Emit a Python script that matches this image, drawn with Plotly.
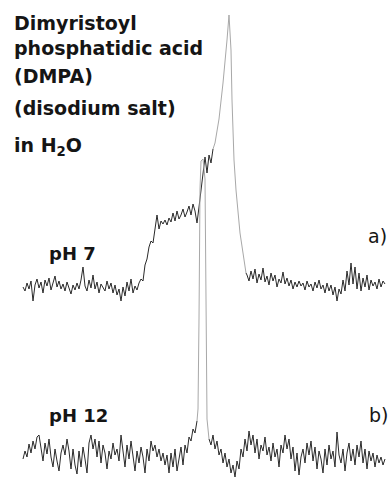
import plotly.graph_objects as go

# ---- data (x: channel, y: signal height) ----
ph7_x = [23,25,27,29,31,33,35,37,39,41,43,45,47,49,51,53,55,57,59,61,63,65,67,69,71,73,75,77,79,81,
         83,85,87,89,91,93,95,97,99,101,103,105,107,109,111,113,115,117,119,121,123,125,127,129,131,133,135,137,139,
         141,143,145,147,149,151,153,155,
         157,159,161,163,165,167,169,171,173,175,177,179,181,183,185,187,189,191,193,195,197,199,201,203,205,207,209,211,213,
         215,219,223,227,229,231,232,234,236,240,243,246,
         247,249,251,253,255,257,259,261,263,265,267,269,271,273,275,277,279,281,283,285,287,289,291,293,295,297,299,
         301,303,305,307,309,311,313,315,317,319,321,323,325,327,329,331,333,335,337,339,341,343,345,347,349,351,353,
         355,357,359,361,363,365,367,369,371,373,375,377,379,381,383,385]
ph7_y = [192,188,196,190,198,178,194,200,191,197,186,199,193,201,189,196,203,192,198,190,195,188,197,191,185,194,189,196,190,199,
         212,193,188,199,191,204,190,197,186,195,192,188,198,190,196,186,194,184,190,178,192,183,197,188,200,186,193,189,196,
         200,198,214,220,232,238,236,250,
         264,250,258,255,259,254,261,257,266,258,268,260,264,270,262,267,273,264,275,268,256,272,290,310,322,306,324,316,330,
         336,360,396,439,464,429,379,319,289,246,224,206,
         204,198,208,200,210,196,205,199,211,197,203,194,206,198,204,192,200,196,207,195,201,193,199,190,197,192,198,
         193,196,189,198,192,195,188,197,191,199,190,194,186,196,188,194,184,192,178,190,185,199,188,208,194,216,195,
         212,190,206,188,201,192,204,189,199,193,197,190,200,192,198,195]

ph12_x = [23,25,27,29,31,33,35,37,39,41,43,45,47,49,51,53,55,57,59,61,63,65,67,69,71,73,75,77,79,81,83,85,87,89,
          91,93,95,97,99,101,103,105,107,109,111,113,115,117,119,121,123,125,127,129,131,133,135,137,139,141,143,145,
          147,149,151,153,155,157,159,161,163,165,167,169,171,173,175,177,179,181,183,185,187,189,191,193,195,197,
          198,199,200,201,203,205,206,207,
          209,211,213,215,217,219,221,223,225,227,229,231,233,235,237,239,241,243,245,247,249,251,253,255,257,259,
          261,263,265,267,269,271,273,275,277,279,281,283,285,287,289,291,293,295,297,299,301,303,305,307,309,311,
          313,315,317,319,321,323,325,327,329,331,333,335,337,339,341,343,345,347,349,351,353,355,357,359,361,363,
          365,367,369,371,373,375,377,379,381,383,385]
ph12_y = [20,28,22,35,26,38,30,42,44,30,18,36,25,40,22,12,30,18,8,26,34,24,40,28,10,30,14,5,28,12,32,20,6,36,
          44,30,40,22,38,16,34,26,10,28,20,36,24,30,18,44,26,12,34,20,38,24,8,28,16,32,22,6,
          30,18,38,28,34,22,30,18,26,14,24,6,26,12,30,8,20,32,14,34,26,42,38,50,46,58,
          70,160,290,318,320,300,160,60,
          40,34,44,30,38,24,30,16,26,12,20,6,14,2,18,10,30,22,40,28,48,34,44,26,40,20,
          34,28,42,24,32,18,36,22,30,12,34,26,44,30,40,20,32,8,26,4,22,30,16,36,24,38,
          18,32,10,28,20,6,30,14,34,20,28,12,47,24,16,30,8,26,36,18,30,14,34,22,38,16,
          30,10,28,18,26,12,24,16,22,14,20]

title_lines = ["Dimyristoyl", "phosphatidic acid", "(DMPA)", "(disodium salt)", "in H<sub>2</sub>O"]
sample_labels = ["pH 7", "pH 12"]
panel_labels = ["a)", "b)"]

DARK = "#2a2a2a"
LIGHT = "#a8a8a8"
H = 479


def segments(xs, ys, lo, hi):
    a = [(x, y) for x, y in zip(xs, ys) if x <= lo]
    b = [(x, y) for x, y in zip(xs, ys) if lo <= x <= hi]
    c = [(x, y) for x, y in zip(xs, ys) if x >= hi]
    return a, b, c


fig = go.Figure()
for xs, ys, lo, hi in [(ph7_x, ph7_y, 213, 246), (ph12_x, ph12_y, 197, 209)]:
    a, b, c = segments(xs, ys, lo, hi)
    for seg, col in [(a, DARK), (b, LIGHT), (c, DARK)]:
        fig.add_trace(go.Scatter(x=[p[0] for p in seg], y=[p[1] for p in seg], mode="lines",
                                 line=dict(color=col, width=1), hoverinfo="skip", showlegend=False))

font_title = dict(family="DejaVu Sans", size=19, color="#151515", weight="bold")
baselines = [30, 55, 83, 115, 153]
for txt, bl in zip(title_lines, baselines):
    fig.add_annotation(x=12, y=H - (bl - 0.346 * 19), text=txt, showarrow=False,
                       xanchor="left", yanchor="middle", font=font_title)

font_lab = dict(family="DejaVu Sans", size=18, color="#151515", weight="bold")
for txt, x0, bl in [(sample_labels[0], 47, 260), (sample_labels[1], 47, 422)]:
    fig.add_annotation(x=x0, y=H - (bl - 0.346 * 18), text=txt, showarrow=False,
                       xanchor="left", yanchor="middle", font=font_lab)

font_pan = dict(family="DejaVu Sans", size=19, color="#151515")
for txt, x0, bl in [(panel_labels[0], 366, 243), (panel_labels[1], 367, 422)]:
    fig.add_annotation(x=x0, y=H - (bl - 0.346 * 19), text=txt, showarrow=False,
                       xanchor="left", yanchor="middle", font=font_pan)

fig.update_layout(width=390, height=479, margin=dict(l=0, r=0, t=0, b=0),
                  paper_bgcolor="white", plot_bgcolor="white")
fig.update_xaxes(range=[0, 390], visible=False)
fig.update_yaxes(range=[0, 479], visible=False)
fig.write_html("out.html")
